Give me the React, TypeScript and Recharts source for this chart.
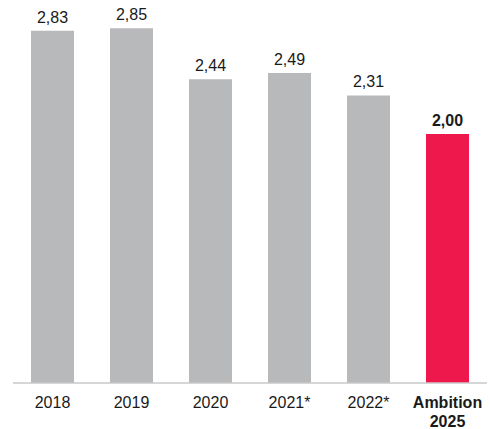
import { BarChart, Bar, XAxis, YAxis, Cell, LabelList } from "recharts"

const CATEGORIES = ["2018", "2019", "2020", "2021*", "2022*", "Ambition\n2025"]
const VALUES = [2.83, 2.85, 2.44, 2.49, 2.31, 2.0]
const IS_TARGET = [false, false, false, false, false, true]

const GREY = "#b8b9bb"
const RED = "#ef184c"
const TEXT = "#1a1a1a"
const FONT = "'Liberation Sans', Arial, sans-serif"

const data = CATEGORIES.map((c, i) => ({ name: c, value: VALUES[i], target: IS_TARGET[i] }))

const fmt = (v: number) => v.toFixed(2).replace(".", ",")

const Tick = ({ x, y, payload, index }: any) => {
  const lines = String(payload.value).split("\n")
  const bold = IS_TARGET[index]
  return (
    <text x={x} y={y} textAnchor="middle" fontFamily={FONT} fontSize={16}
      fontWeight={bold ? 700 : 400} fill={TEXT}>
      {lines.map((l, i) => (
        <tspan key={i} x={x} dy={i === 0 ? 17 : 18.5}>{l}</tspan>
      ))}
    </text>
  )
}

const ValueLabel = ({ x, y, width, value, index }: any) => (
  <text x={x + width / 2} y={y - 8} textAnchor="middle" fontFamily={FONT}
    fontSize={16} fontWeight={IS_TARGET[index] ? 700 : 400} fill={TEXT}>
    {fmt(value)}
  </text>
)

export default function App() {
  return (
    <div style={{ position: "absolute", left: 0, top: 0, background: "#fff" }}>
      <BarChart
        width={490}
        height={429}
        data={data}
        margin={{ top: 9.5, right: 3, bottom: 16, left: 13 }}
        barCategoryGap={18}
      >
        <XAxis
          dataKey="name"
          axisLine={{ stroke: "#c9c9c9", strokeWidth: 1.5 }}
          tickLine={false}
          interval={0}
          height={30}
          tick={<Tick />}
        />
        <YAxis hide domain={[0, 3]} />
        <Bar dataKey="value" isAnimationActive={false}>
          {data.map((d, i) => (
            <Cell key={i} fill={d.target ? RED : GREY} />
          ))}
          <LabelList dataKey="value" content={<ValueLabel />} />
        </Bar>
      </BarChart>
    </div>
  )
}
